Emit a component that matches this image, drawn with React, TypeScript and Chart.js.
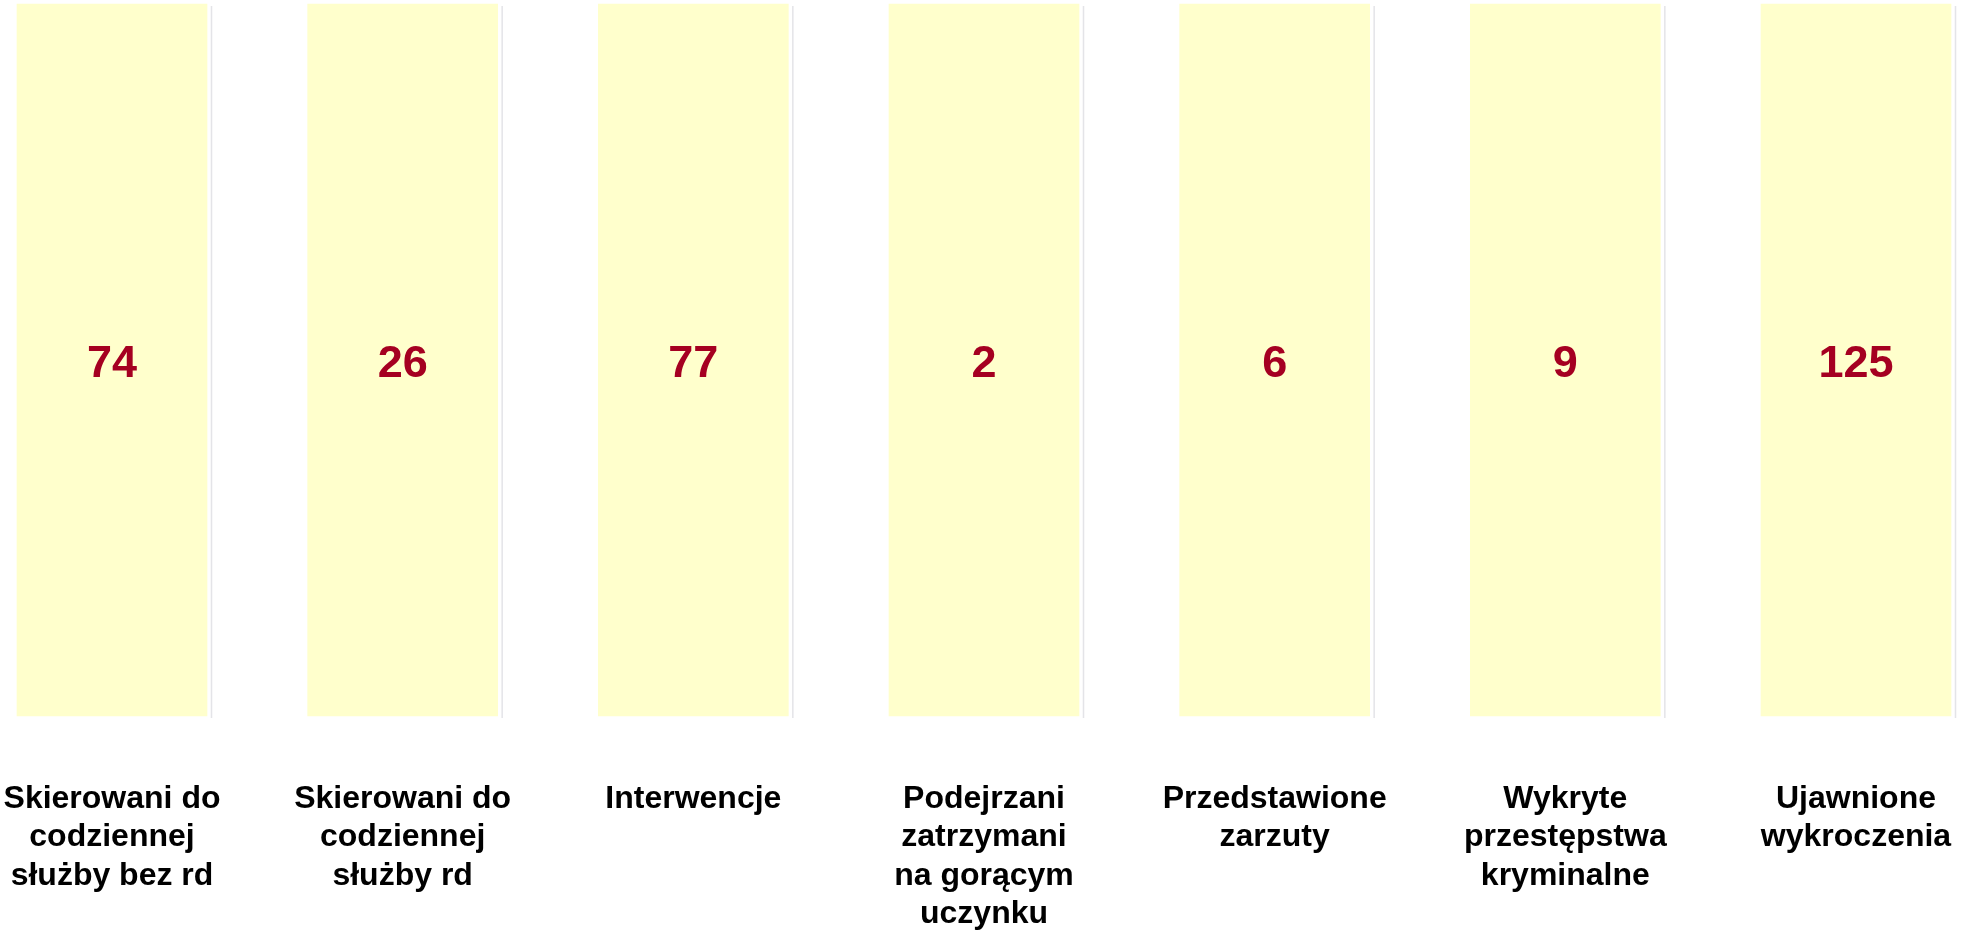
import React, { useEffect, useRef } from "react";
import { Chart, registerables } from "chart.js";

Chart.register(...registerables);

const categories: string[][] = [
  ["Skierowani do", "codziennej", "służby bez rd"],
  ["Skierowani do", "codziennej", "służby rd"],
  ["Interwencje"],
  ["Podejrzani", "zatrzymani", "na gorącym", "uczynku"],
  ["Przedstawione", "zarzuty"],
  ["Wykryte", "przestępstwa", "kryminalne"],
  ["Ujawnione", "wykroczenia"],
];

// The numbers printed inside the boxes
const counts: number[] = [74, 26, 77, 2, 6, 9, 125];

// Every box is drawn at the same full height (100 % of the scale)
const boxHeights: number[] = [100, 100, 100, 100, 100, 100, 100];

const FONT = "'Liberation Sans', Arial, Helvetica, sans-serif";

const boxPlugin = {
  id: "boxDecor",
  afterDatasetsDraw(chart: any) {
    const ctx = chart.ctx as CanvasRenderingContext2D;
    const meta = chart.getDatasetMeta(0);
    ctx.save();
    meta.data.forEach((bar: any, i: number) => {
      const { x, y, base, width } = bar.getProps(["x", "y", "base", "width"], true);
      const right = x + width / 2;
      // thin grey shadow line to the right of each box
      ctx.strokeStyle = "#e4e4e8";
      ctx.lineWidth = 1.5;
      ctx.beginPath();
      ctx.moveTo(right + 4.5, y + 2);
      ctx.lineTo(right + 4.5, base + 2);
      ctx.stroke();
      // value label
      ctx.fillStyle = "#A50021";
      ctx.font = `bold 45px ${FONT}`;
      ctx.textAlign = "center";
      ctx.textBaseline = "middle";
      ctx.fillText(String(counts[i]), x, (y + base) / 2 + 5);
    });
    ctx.restore();
  },
};

export default function App() {
  const ref = useRef<HTMLCanvasElement | null>(null);

  useEffect(() => {
    document.body.style.margin = "0";
    const canvas = ref.current;
    if (!canvas) return;
    const chart = new Chart(canvas, {
      type: "bar",
      data: {
        labels: categories as any,
        datasets: [
          {
            data: boxHeights,
            backgroundColor: "#FFFFCC",
            borderWidth: 0,
            barThickness: 190,
            clip: false as any,
          },
        ],
      },
      options: {
        animation: false,
        responsive: false,
        maintainAspectRatio: false,
        layout: { padding: { left: 112, right: 108, top: 4, bottom: 2 } },
        plugins: {
          legend: { display: false },
          tooltip: { enabled: false },
          title: { display: false },
        },
        scales: {
          x: {
            type: "category",
            offset: false,
            grid: { display: false, drawTicks: false },
            border: { display: false },
            afterFit: (scale: any) => {
              scale.height = 218;
              scale.paddingLeft = 0;
              scale.paddingRight = 0;
              scale.paddingTop = 0;
              scale.paddingBottom = 0;
            },
            ticks: {
              autoSkip: false,
              maxRotation: 0,
              minRotation: 0,
              padding: 64,
              color: "#000000",
              font: { family: FONT, size: 32, weight: "bold", lineHeight: 1.2 },
            },
          },
          y: {
            display: false,
            min: 0,
            max: 100,
          },
        },
      },
      plugins: [boxPlugin],
    });
    return () => chart.destroy();
  }, []);

  return (
    <div style={{ position: "absolute", left: 0, top: 0, width: 1964, height: 936, background: "#ffffff" }}>
      <canvas ref={ref} width={1964} height={936} style={{ width: 1964, height: 936, display: "block" }} />
    </div>
  );
}
